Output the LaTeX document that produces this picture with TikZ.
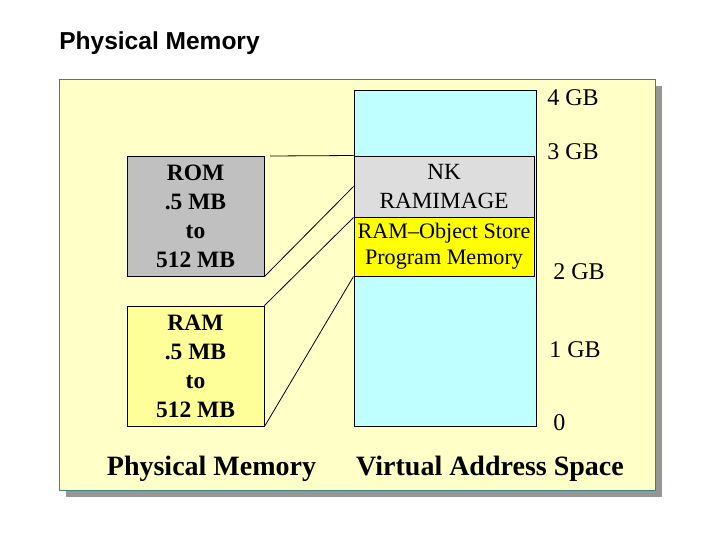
\documentclass[tikz,border=0pt]{standalone}
\usepackage{fontspec}
\setmainfont{Liberation Serif}
\newfontfamily\titlefont{Liberation Sans}
\definecolor{panelyellow}{RGB}{255,255,200}
\definecolor{panelline}{RGB}{64,128,128}
\definecolor{shadowgray}{RGB}{150,150,150}
\definecolor{vascyan}{RGB}{192,255,255}
\definecolor{romgray}{RGB}{192,192,192}
\definecolor{nkgray}{RGB}{221,221,221}
\definecolor{ramyellow}{RGB}{255,255,153}
\definecolor{storeyellow}{RGB}{255,255,0}

\begin{document}
\begin{tikzpicture}[x=0.75pt,y=-0.75pt,
    physbox/.style={draw=black,line width=0.75pt,inner sep=0pt,align=center,
        minimum width=102.75pt,minimum height=90pt,
        font=\fontsize{17.6pt}{21.75pt}\selectfont\bfseries},
    virtbox/.style={draw=black,line width=0.75pt,inner sep=0pt,align=center,
        minimum width=135pt},
    gblabel/.style={anchor=west,inner sep=0pt,font=\fontsize{18pt}{20pt}\selectfont},
    caption/.style={anchor=base,inner sep=0pt,font=\fontsize{21pt}{24pt}\selectfont\bfseries},
    link/.style={black,line width=0.6pt}]
                \useasboundingbox (0,0) rectangle (720,540);
                % Title
                \node[anchor=base west,inner sep=0pt,font=\titlefont\fontsize{18.4pt}{21pt}\selectfont\bfseries] (title) at (59,49) {Physical Memory};
                % Panel with shadow
                \fill[shadowgray] (66,86) rectangle (662,497);
                \draw[fill=panelyellow,draw=panelline,line width=0.75pt] (59,79) rectangle (655,490);
                % Virtual address space
                \node[draw=black,fill=vascyan,line width=0.75pt,inner sep=0pt,minimum width=136.5pt,minimum height=252pt] (vas) at (445,258) {};
                \node[virtbox,fill=nkgray,minimum height=45.75pt,font=\fontsize{17.4pt}{21.75pt}\selectfont] (nk) at (444,186.5) {NK\\RAMIMAGE};
                \node[virtbox,fill=storeyellow,minimum height=44.25pt,font=\fontsize{16.6pt}{19.5pt}\selectfont] (store) at (444,246.5) {RAM--Object Store\\Program Memory};
                % Physical memory
                \node[physbox,fill=romgray] (rom) at (195.5,216) {ROM\\.5 MB\\to\\512 MB};
                \node[physbox,fill=ramyellow] (ram) at (195.5,366) {RAM\\.5 MB\\to\\512 MB};
                % Address marks
                \node[gblabel] (gb4) at (547,98) {4 GB};
                \node[gblabel] (gb3) at (547,152) {3 GB};
                \node[gblabel] (gb2) at (553,272) {2 GB};
                \node[gblabel] (gb1) at (549,350) {1 GB};
                \node[gblabel] (gb0) at (553,423) {0};
                % Captions
                \node[caption] (physcap) at (211.5,475) {Physical Memory};
                \node[caption] (virtcap) at (490,475) {Virtual Address Space};
                % Mapping lines
                \coordinate (romtop) at (270,156);
                \draw[link] (romtop) -- (nk.north west);
                \draw[link] (rom.south east) -- (nk.west);
                \draw[link] (ram.north east) -- (nk.south west);
                \draw[link] (ram.south east) -- (store.south west);
\end{tikzpicture}
\end{document}
